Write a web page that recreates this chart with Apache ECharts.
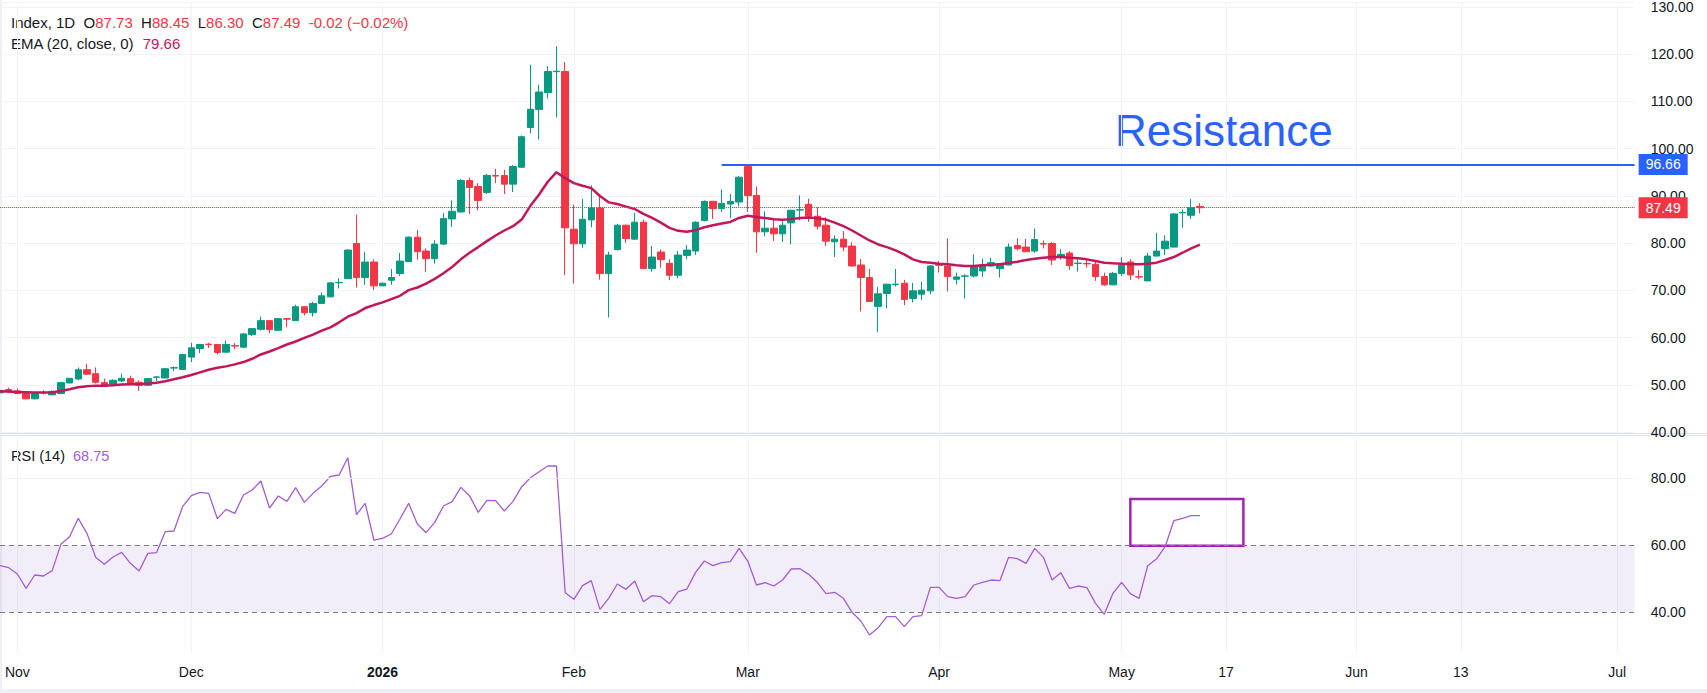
<!DOCTYPE html>
<html>
<head>
<meta charset="utf-8">
<title>Index, 1D</title>
<script src="https://cdn.jsdelivr.net/npm/echarts@6/dist/echarts.min.js"></script>
<style>
  html, body { margin: 0; padding: 0; background: #fff; }
  #chart { width: 1707px; height: 693px; }
</style>
</head>
<body>
<div id="chart"></div>
<script>
// daily bars, oldest first
const opens = [
  48.3, 48.98, 48.7, 48.14, 47.02, 48.4, 47.86, 48.14, 50.39, 51.23,
  53.19, 52.35, 50.45, 50.11, 50.81, 51.3, 50.53, 49.89, 51.6, 51.44,
  53.55, 53.26, 55.86, 57.68, 58.6, 58.53, 56.91, 58.3, 57.96, 60.63,
  61.75, 63.58, 61.54, 64.0, 63.58, 66.53, 65.26, 67.23, 68.63, 71.6,
  72.49, 79.93, 72.7, 75.99, 70.95, 72.14, 73.55, 76.07, 81.26, 78.32,
  76.7, 79.79, 85.12, 86.6, 93.26, 92.0, 90.74, 94.3, 94.32, 92.49,
  96.07, 104.49, 108.28, 111.86, 116.3, 116.35, 82.95, 79.86, 84.91, 87.44,
  73.54, 78.6, 83.79, 80.84, 84.42, 74.6, 78.11, 75.72, 73.19, 77.4,
  78.32, 84.77, 88.84, 87.3, 88.28, 88.7, 96.21, 90.11, 82.39, 83.16,
  81.96, 84.28, 87.0, 88.21, 85.68, 83.79, 80.28, 80.84, 79.37, 75.37,
  72.7, 66.6, 69.33, 71.25, 71.51, 68.28, 69.19, 69.89, 75.4, 75.16,
  72.35, 73.0, 73.05, 74.11, 75.16, 74.6, 75.37, 79.51, 79.16, 78.32,
  79.9, 79.93, 77.05, 77.89, 75.68, 75.7, 75.51, 72.91, 71.16, 73.54,
  76.0, 72.9, 72.0, 77.26, 78.81, 79.16, 86.4, 85.89, 87.73
];
const highs = [
  49.0, 49.4, 49.19, 48.2, 48.42, 48.84, 48.84, 50.6, 51.4, 53.68,
  54.46, 53.68, 51.3, 51.16, 52.35, 51.93, 50.95, 51.44, 51.86, 53.5,
  53.9, 56.56, 58.88, 58.67, 58.88, 58.67, 59.37, 58.81, 60.91, 62.03,
  64.42, 63.72, 64.14, 64.14, 66.95, 66.6, 67.58, 69.54, 71.7, 72.56,
  78.7, 86.04, 78.1, 76.56, 71.6, 74.53, 77.9, 81.4, 82.74, 78.88,
  80.63, 86.39, 89.05, 93.54, 93.89, 92.7, 94.67, 95.72, 95.51, 96.56,
  102.8, 117.75, 113.54, 117.47, 121.68, 118.32, 88.14, 89.33, 92.21, 90.25,
  78.18, 84.07, 83.9, 86.39, 84.98, 79.37, 78.67, 76.56, 78.32, 79.58,
  84.63, 89.05, 88.95, 91.37, 90.39, 94.18, 96.66, 92.0, 86.74, 85.33,
  84.98, 87.09, 90.11, 89.4, 87.58, 85.47, 81.68, 82.53, 80.21, 76.63,
  74.53, 70.74, 71.4, 74.53, 72.21, 71.58, 71.79, 75.3, 76.21, 80.98,
  73.75, 73.4, 77.61, 76.7, 76.91, 75.8, 79.93, 80.98, 80.91, 83.09,
  80.56, 80.21, 78.74, 78.32, 76.7, 76.56, 76.07, 73.75, 73.89, 77.05,
  76.56, 74.32, 77.89, 82.18, 81.68, 86.39, 87.09, 89.33, 88.45
];
const lows = [
  47.9, 48.28, 48.0, 46.95, 46.95, 47.93, 47.86, 48.0, 50.3, 50.95,
  52.15, 50.25, 49.68, 49.68, 50.6, 50.04, 48.7, 49.68, 50.81, 51.4,
  52.91, 53.2, 54.81, 56.7, 57.82, 56.42, 56.85, 57.54, 57.82, 60.35,
  61.47, 60.91, 61.45, 62.17, 63.5, 64.7, 64.42, 67.15, 68.5, 70.4,
  72.4, 70.6, 71.16, 70.1, 70.9, 71.16, 73.05, 76.0, 76.49, 73.96,
  75.65, 79.58, 83.44, 86.5, 86.18, 86.95, 90.39, 92.7, 90.39, 90.81,
  95.9, 103.23, 101.97, 110.6, 106.6, 73.26, 71.44, 79.02, 83.37, 72.28,
  64.28, 78.5, 80.07, 80.7, 74.5, 73.97, 74.81, 72.14, 72.56, 76.56,
  77.47, 84.6, 85.12, 86.6, 85.33, 87.79, 86.6, 77.96, 81.47, 80.42,
  80.28, 79.72, 84.84, 84.49, 82.88, 79.37, 77.05, 78.32, 74.95, 65.54,
  67.6, 61.12, 66.18, 70.81, 66.88, 67.44, 67.93, 69.19, 73.75, 69.75,
  71.23, 68.28, 72.7, 72.84, 75.0, 72.7, 75.3, 78.46, 78.1, 77.96,
  78.88, 75.37, 76.49, 74.32, 73.96, 74.81, 72.0, 70.95, 71.1, 73.05,
  72.21, 72.35, 71.95, 77.2, 77.47, 79.1, 83.23, 85.12, 86.3
];
const closes = [
  48.8, 48.49, 48.14, 47.02, 48.14, 48.3, 48.56, 50.45, 51.37, 53.19,
  52.25, 50.53, 49.82, 50.95, 51.37, 50.25, 49.89, 51.3, 51.65, 53.4,
  53.61, 56.42, 57.82, 58.53, 58.5, 56.84, 58.53, 58.2, 60.77, 61.89,
  63.58, 61.68, 64.0, 63.9, 66.53, 65.26, 67.23, 68.84, 71.58, 71.65,
  78.53, 72.7, 75.99, 70.95, 71.51, 72.7, 76.2, 81.26, 78.18, 76.7,
  79.79, 85.19, 86.74, 93.26, 91.79, 89.05, 94.32, 94.2, 92.49, 96.21,
  102.53, 108.35, 112.0, 116.35, 116.4, 83.23, 79.86, 85.05, 87.44, 73.54,
  77.47, 83.79, 80.98, 84.42, 74.6, 77.05, 76.49, 73.19, 77.47, 78.53,
  84.42, 88.84, 87.3, 88.42, 88.84, 93.96, 90.04, 82.39, 83.16, 81.96,
  83.79, 86.95, 87.09, 85.68, 83.58, 80.42, 80.84, 79.16, 75.16, 72.7,
  67.65, 69.26, 71.3, 71.3, 68.07, 69.89, 70.04, 75.16, 75.3, 72.91,
  72.84, 73.05, 75.02, 75.37, 75.86, 75.65, 79.16, 78.81, 78.18, 80.77,
  79.8, 76.42, 77.61, 75.23, 75.76, 75.6, 72.91, 71.16, 73.61, 75.3,
  73.26, 72.8, 77.26, 78.32, 80.42, 86.18, 86.5, 87.51, 87.49
];
// EMA (20, close) as drawn
const emaValues = [
  48.63, 48.56, 48.49, 48.42, 48.35, 48.35, 48.42, 48.7, 49.05, 49.47,
  49.68, 49.82, 49.82, 49.89, 50.04, 50.11, 50.11, 50.25, 50.45, 50.74,
  51.16, 51.58, 52.07, 52.63, 53.19, 53.61, 53.9, 54.32, 54.81, 55.51,
  56.42, 57.05, 57.75, 58.53, 59.16, 59.93, 60.63, 61.47, 62.17, 63.23,
  64.42, 65.19, 66.25, 66.88, 67.44, 68.14, 68.84, 70.04, 70.6, 71.44,
  72.42, 73.61, 74.95, 76.56, 77.96, 79.16, 80.42, 81.61, 82.67, 83.58,
  84.98, 87.9, 90.3, 93.0, 95.02, 93.75, 92.7, 92.14, 91.65, 89.97,
  88.63, 88.28, 87.72, 87.23, 86.18, 85.33, 84.35, 83.23, 82.6, 82.39,
  82.74, 83.37, 83.79, 84.14, 84.49, 85.33, 85.8, 85.55, 85.3, 85.05,
  84.95, 85.08, 85.33, 85.4, 85.26, 84.98, 84.35, 83.58, 82.67, 81.61,
  80.56, 79.72, 79.16, 78.46, 77.61, 76.56, 76.0, 75.86, 75.65, 75.51,
  75.3, 75.16, 75.16, 75.3, 75.44, 75.51, 75.79, 76.07, 76.42, 76.7,
  76.91, 77.05, 77.05, 76.91, 76.77, 76.56, 76.21, 75.86, 75.72, 75.65,
  75.51, 75.51, 75.65, 75.86, 76.42, 77.05, 77.96, 78.88, 79.66
];
// RSI (14) as drawn
const rsiValues = [
  53.83, 53.23, 51.34, 47.06, 51.04, 50.75, 52.34, 60.2, 62.49, 67.96,
  63.48, 56.32, 54.23, 56.42, 57.81, 54.53, 52.24, 57.51, 57.71, 63.98,
  64.18, 71.44, 74.73, 75.72, 75.42, 67.86, 70.65, 69.45, 74.93, 76.42,
  79.1, 71.04, 74.63, 73.04, 77.11, 72.74, 75.42, 77.61, 80.5, 80.9,
  86.07, 69.05, 72.44, 61.49, 61.99, 63.28, 67.76, 72.44, 66.27, 63.68,
  66.77, 71.64, 72.94, 77.21, 74.73, 69.75, 73.33, 73.23, 70.15, 73.04,
  77.41, 80.1, 81.89, 83.58, 83.58, 45.77, 43.78, 47.86, 49.35, 40.8,
  44.08, 48.36, 46.77, 49.25, 43.08, 44.88, 44.58, 42.49, 46.07, 46.86,
  51.84, 55.22, 53.83, 54.73, 55.02, 59.0, 55.22, 48.06, 48.76, 47.76,
  49.55, 52.83, 52.93, 51.24, 48.86, 45.47, 45.87, 44.08, 39.9, 37.31,
  33.13, 35.32, 38.6, 38.6, 35.62, 38.6, 38.9, 47.36, 47.36, 44.58,
  44.08, 44.58, 48.06, 48.86, 49.55, 49.35, 56.32, 55.92, 54.53, 59.0,
  56.32, 49.55, 51.74, 47.06, 47.76, 47.26, 42.59, 39.3, 45.57, 48.86,
  45.47, 44.08, 53.83, 55.82, 59.5, 67.26, 67.96, 68.75, 68.75
];

// time axis: bar slots incl. empty future space
const slotCount = 189;
const tickIndex = [2, 22, 44, 66, 86, 108, 129, 141, 156, 168, 186];
const tickLabels = ['Nov', 'Dec', '2026', 'Feb', 'Mar', 'Apr', 'May', '17', 'Jun', '13', 'Jul'];
const rsiTicks = [40, 60, 80];

const lastOpen = 87.73, lastHigh = 88.45, lastLow = 86.30, lastClose = 87.49;
const lastEma = 79.66, lastRsi = 68.75;
const resistance = 96.66, resistanceFrom = 83;
const rsiBoxFrom = 130, rsiBoxTo = 143, rsiBoxLow = 59.8, rsiBoxHigh = 73.7;

const categories = Array.from({ length: slotCount }, (_, i) => String(i));
const candles = opens.map((o, i) => [o, closes[i], lows[i], highs[i]]);

const upColor = '#089981';
const downColor = '#f23645';
const emaColor = '#c2185b';
const rsiColor = '#a35dd1';
const blue = '#2962ff';
const gridColor = '#f0f3fa';
const textColor = '#131722';
const font = 'Liberation Sans, Arial, sans-serif';

const isTick = (index) => tickIndex.indexOf(index) >= 0;

function badge(color, value) {
  return {
    show: true,
    position: 'end',
    distance: 4,
    color: '#fff',
    backgroundColor: color,
    padding: [4, 7, 3, 7],
    fontSize: 14,
    fontFamily: font,
    formatter: () => value.toFixed(2)
  };
}

const chart = echarts.init(document.getElementById('chart'), null, { renderer: 'svg' });

const option = {
  animation: false,
  backgroundColor: '#fff',
  textStyle: { fontFamily: font },
  grid: [
    { left: -0.95, top: 0, width: 1635.6, height: 432 },
    { left: -0.95, top: 435, width: 1635.6, height: 218 }
  ],
  xAxis: [
    {
      type: 'category', gridIndex: 0, data: categories, boundaryGap: false,
      axisLine: { show: false }, axisTick: { show: false }, axisLabel: { show: false },
      splitLine: { show: true, interval: isTick, lineStyle: { color: gridColor } }
    },
    {
      type: 'category', gridIndex: 1, data: categories, boundaryGap: false,
      axisLine: { show: false }, axisTick: { show: false },
      axisLabel: {
        interval: isTick,
        margin: 12,
        color: textColor,
        fontSize: 14,
        formatter: (val) => {
          const k = tickIndex.indexOf(Number(val));
          if (k < 0) return '';
          return tickLabels[k] === '2026' ? '{b|2026}' : tickLabels[k];
        },
        rich: { b: { fontWeight: 'bold', fontSize: 14, color: textColor } }
      },
      splitLine: { show: true, interval: isTick, lineStyle: { color: gridColor } }
    }
  ],
  yAxis: [
    {
      type: 'value', gridIndex: 0, position: 'right', min: 40, max: 40 + 432 / 4.75, interval: 10,
      axisLine: { show: false }, axisTick: { show: false },
      axisLabel: { color: textColor, fontSize: 14, margin: 16, showMaxLabel: false, formatter: v => v.toFixed(2) },
      splitLine: { lineStyle: { color: gridColor } }
    },
    {
      type: 'value', gridIndex: 1, position: 'right', min: 27.76, max: 92.84,
      axisLine: { show: false }, axisTick: { show: false },
      axisLabel: { customValues: rsiTicks, color: textColor, fontSize: 14, margin: 16, formatter: v => v.toFixed(2) },
      splitLine: { show: false }
    }
  ],
  series: [
    {
      name: 'Index',
      type: 'candlestick',
      xAxisIndex: 0, yAxisIndex: 0,
      data: candles,
      barWidth: 7,
      itemStyle: { color: upColor, color0: downColor, borderColor: upColor, borderColor0: downColor, borderWidth: 1 },
      markLine: {
        silent: true,
        symbol: ['none', 'none'],
        data: [
          { yAxis: lastClose, lineStyle: { color: downColor, type: 'dotted', width: 1 }, label: badge(downColor, lastClose) },
          [
            { coord: [String(resistanceFrom), resistance], lineStyle: { color: blue, type: 'solid', width: 2 }, label: badge(blue, resistance) },
            { coord: [String(slotCount - 1), resistance] }
          ],
          { yAxis: lastEma, lineStyle: { opacity: 0 }, label: badge(emaColor, lastEma) }
        ]
      }
    },
    {
      name: 'EMA',
      type: 'line',
      xAxisIndex: 0, yAxisIndex: 0,
      data: emaValues,
      showSymbol: false,
      silent: true,
      z: 3,
      lineStyle: { color: emaColor, width: 2.5 }
    },
    {
      name: 'RSI',
      type: 'line',
      xAxisIndex: 1, yAxisIndex: 1,
      data: rsiValues,
      showSymbol: false,
      silent: true,
      z: 3,
      lineStyle: { color: rsiColor, width: 1.3 },
      markArea: {
        silent: true,
        data: [
          [{ yAxis: 60, itemStyle: { color: 'rgba(126, 87, 194, 0.1)' } }, { yAxis: 40 }],
          [
            { coord: [String(rsiBoxFrom), rsiBoxHigh], itemStyle: { color: 'rgba(0,0,0,0)', borderColor: '#9c27b0', borderWidth: 2.5 } },
            { coord: [String(rsiBoxTo), rsiBoxLow] }
          ]
        ]
      },
      markLine: {
        silent: true,
        symbol: ['none', 'none'],
        data: [
          { yAxis: 80, lineStyle: { color: gridColor, type: 'solid', width: 1 }, label: { show: false } },
          { yAxis: 60, lineStyle: { color: '#787b86', type: [5, 4], width: 1 }, label: { show: false } },
          { yAxis: 40, lineStyle: { color: '#787b86', type: [5, 4], width: 1 }, label: { show: false } },
          { yAxis: lastRsi, lineStyle: { opacity: 0 }, label: badge(rsiColor, lastRsi) }
        ]
      }
    }
  ],
  graphic: [
    { type: 'rect', left: 0, top: 0, shape: { width: 2, height: 693 }, style: { fill: '#eef0f6' }, silent: true },
    { type: 'rect', left: 0, top: 433, shape: { width: 1707, height: 1 }, style: { fill: '#e0e3eb' }, silent: true },
    { type: 'rect', left: 0, top: 435, shape: { width: 1707, height: 1 }, style: { fill: '#e0e3eb' }, silent: true },
    { type: 'rect', left: 0, top: 689, shape: { width: 1707, height: 4 }, style: { fill: '#eef0f6' }, silent: true },
    {
      type: 'text', x: 11, y: 22, silent: true,
      style: {
        text: 'Index, 1D  O{r|' + lastOpen.toFixed(2) + '}  H{r|' + lastHigh.toFixed(2) + '}  L{r|' + lastLow.toFixed(2) +
          '}  C{r|' + lastClose.toFixed(2) + '}  {r|-0.02 (−0.02%)}',
        fill: textColor, fontSize: 15, fontFamily: font, verticalAlign: 'middle',
        rich: { r: { fill: downColor, fontSize: 15, fontFamily: font } }
      }
    },
    {
      type: 'text', x: 11, y: 43, silent: true,
      style: {
        text: 'EMA (20, close, 0)  {e|' + lastEma.toFixed(2) + '}',
        fill: textColor, fontSize: 15, fontFamily: font, verticalAlign: 'middle',
        rich: { e: { fill: emaColor, fontSize: 15, fontFamily: font } }
      }
    },
    {
      type: 'text', x: 11, y: 456, silent: true,
      style: {
        text: 'RSI (14)  {p|' + lastRsi.toFixed(2) + '}',
        fill: textColor, fontSize: 14.5, fontFamily: font, verticalAlign: 'middle',
        rich: { p: { fill: rsiColor, fontSize: 14.5, fontFamily: font } }
      }
    },
    {
      type: 'text', x: 1115, y: 130, silent: true,
      style: { text: 'Resistance', fill: blue, fontSize: 44, fontFamily: font, verticalAlign: 'middle' }
    }
  ]
};

chart.setOption(option);
</script>
</body>
</html>
